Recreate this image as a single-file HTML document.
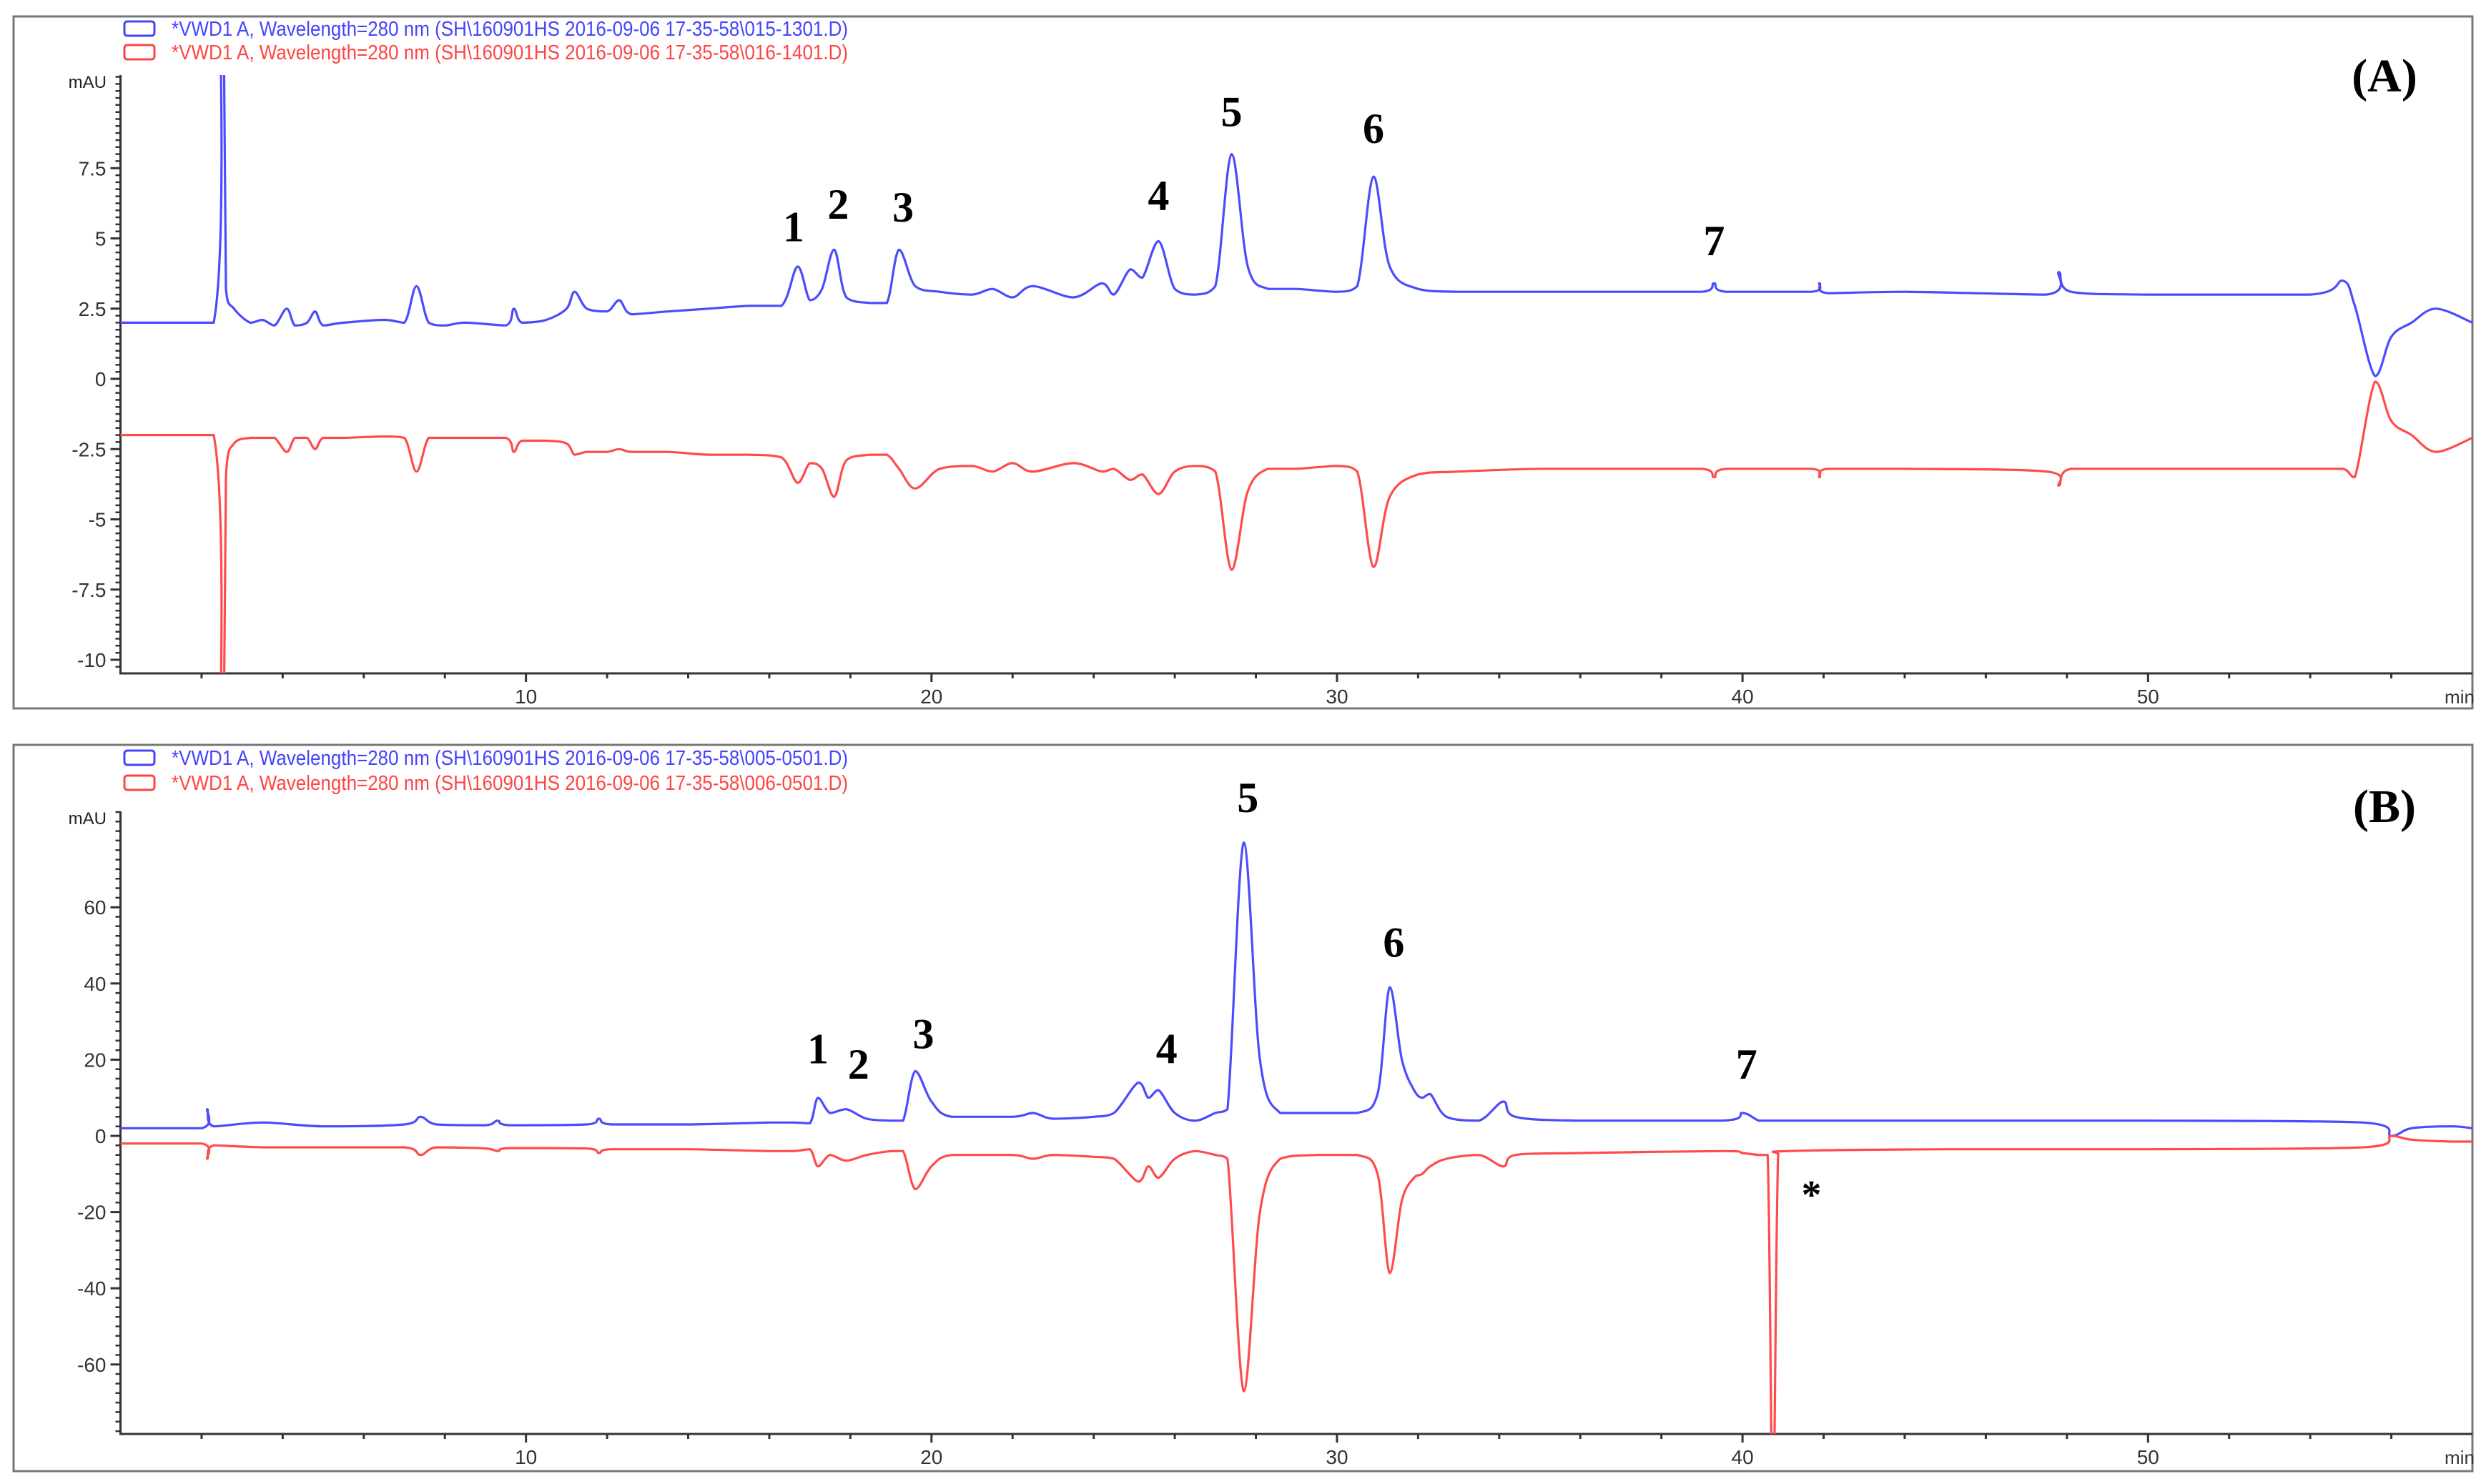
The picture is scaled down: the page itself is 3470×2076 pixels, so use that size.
<!DOCTYPE html>
<html><head><meta charset="utf-8">
<style>
html,body{margin:0;padding:0;background:#fff;}
svg{display:block;}
text{font-family:"Liberation Sans",Arial,sans-serif;}
.lbl{font-family:"Liberation Serif","Times New Roman",serif;font-weight:bold;fill:#000;}
</style></head>
<body>
<svg id="chart" width="3470" height="2076" viewBox="0 0 3470 2076" xmlns="http://www.w3.org/2000/svg">
<rect x="0" y="0" width="3470" height="2076" fill="#fff"/>
</svg>
<script>
// ---- Panel A data ----
const timesA = [0,2.3,2.38,2.45,2.52,2.6,2.8,3.2,3.5,3.8,4.1,4.3,4.6,4.8,5.0,5.5,6.5,7.0,7.3,7.6,8.0,8.5,9.5,9.7,9.9,10.5,11.0,11.2,11.5,12.0,12.3,12.6,13.5,14.5,15.5,16.3,16.7,17.0,17.3,17.6,17.9,18.5,18.9,19.2,19.6,20.2,21,21.5,22,22.5,23.5,24.2,24.5,24.9,25.2,25.6,26.0,26.5,27.0,27.4,27.8,28.3,29,30,30.5,30.9,31.3,32,33,35,37,39,39.3,39.6,41.7,41.9,42.1,44,47.5,47.8,48.1,50,54,54.8,55.1,55.6,56,56.5,57.1,58];
const blueA = [2.0,2.0,20,20,20,3.2,2.5,2.0,2.1,1.9,2.5,1.9,2.0,2.4,1.9,2.0,2.1,2.0,3.3,2.0,1.9,2.0,1.9,2.5,2.0,2.1,2.5,3.1,2.5,2.4,2.8,2.3,2.4,2.5,2.6,2.6,4.0,2.8,3.2,4.6,2.9,2.7,2.7,4.6,3.3,3.1,3.0,3.2,2.9,3.3,2.9,3.4,3.0,3.9,3.6,4.9,3.2,3.0,3.3,8.0,4.0,3.2,3.2,3.1,3.3,7.2,4.0,3.2,3.1,3.1,3.1,3.1,3.4,3.1,3.1,3.4,3.05,3.1,3.0,3.8,3.1,3.0,3.0,3.5,2.6,0.1,1.5,2.0,2.5,2.0];
const redA = [-2.0,-2.0,-20,-20,-20,-3.5,-2.3,-2.1,-2.1,-2.1,-2.6,-2.1,-2.1,-2.5,-2.1,-2.1,-2.05,-2.1,-3.3,-2.1,-2.1,-2.1,-2.1,-2.6,-2.2,-2.2,-2.3,-2.7,-2.6,-2.6,-2.5,-2.6,-2.6,-2.7,-2.7,-2.8,-3.7,-3.0,-3.2,-4.2,-2.9,-2.7,-2.7,-3.2,-3.9,-3.2,-3.1,-3.3,-3.0,-3.3,-3.0,-3.3,-3.2,-3.6,-3.4,-4.1,-3.3,-3.1,-3.3,-6.8,-4.0,-3.2,-3.2,-3.1,-3.3,-6.7,-4.2,-3.4,-3.3,-3.2,-3.2,-3.2,-3.5,-3.2,-3.2,-3.5,-3.2,-3.2,-3.3,-3.8,-3.2,-3.2,-3.2,-3.2,-3.5,-0.1,-1.5,-2.0,-2.6,-2.1];
const yTicksA = [-10,-7.5,-5,-2.5,0,2.5,5,7.5];
const yTickLabelsA = ["-10","-7.5","-5","-2.5","0","2.5","5","7.5"];
const peakLabelsA = ["1","2","3","4","5","6","7"];
const peakTimesA = [16.6,17.7,19.3,25.6,27.4,30.9,39.3];
const peakLabelValsA = [4.9,5.7,5.6,6.0,9.0,8.4,4.4];

// ---- Panel B data ----
const timesB = [0,2.0,2.14,2.3,3.5,5,7.0,7.4,7.8,9.0,9.3,9.6,11.5,11.8,12.1,14,16.0,16.6,17.0,17.2,17.5,17.9,18.4,19.0,19.3,19.6,20.0,20.5,22,22.5,23,24,24.5,25.1,25.35,25.6,26.0,26.5,27.0,27.3,27.7,28.1,28.6,29.5,30.5,31.0,31.3,31.6,31.9,32.1,32.3,32.7,33.5,34.1,34.4,36,39.5,40.0,40.4,40.62,40.75,40.88,41.1,45,50,55.3,56,56.5,57.5,58];
const blueB = [2,2,7,2.5,3.5,2.5,3,5,3,2.8,4,2.8,3,4.5,3,3,3.5,3.5,3.3,10,6,7,4.5,4,4,17,9,5,5,6,4.5,5,6,14,10,12,6,4,6,7,77,20,6,6,6,11,39,20,12,10,11,5,4,9,5,4,4,6,4,4,4,4,4,4,4,3.5,0,2,2.5,2];
const redB = [-2,-2,-6,-2.5,-3,-3,-3,-5,-3,-3.3,-4,-3.2,-3.3,-4.5,-3.5,-3.5,-4,-4,-3.5,-8,-5,-6.5,-5,-4,-4,-14,-8,-5,-5,-6,-5,-5.5,-6,-12,-8,-11,-6,-4,-5,-6,-67,-20,-6,-5,-5,-10,-36,-17,-11,-10,-8,-6,-5,-8,-5,-4.5,-4,-4.5,-5,-5,-100,-5,-4,-3.5,-3.5,-3,0,-1,-1.5,-1.5];
const yTicksB = [-60,-40,-20,0,20,40,60];
const yTickLabelsB = ["-60","-40","-20","0","20","40","60"];
const peakLabelsB = ["1","2","3","4","5","6","7"];
const peakTimesB = [17.2,18.2,19.8,25.8,27.8,31.4,40.1];
const peakLabelValsB = [19,15,23,19,85,47,15];

const xTickLabels = ["10","20","30","40","50"];

const NS = "http://www.w3.org/2000/svg";
const svg = document.getElementById('chart');
function mk(tag, attrs, parent){ const e=document.createElementNS(NS,tag); for(const k in attrs) e.setAttribute(k,attrs[k]); (parent||svg).appendChild(e); return e; }

function clamp(v,a,b){ const lo=Math.min(a,b), hi=Math.max(a,b); return Math.max(lo,Math.min(hi,v)); }
function smoothPath(pts){
  let d='M'+pts[0][0].toFixed(1)+','+pts[0][1].toFixed(1);
  for(let i=0;i<pts.length-1;i++){
    const p0=pts[Math.max(0,i-1)], p1=pts[i], p2=pts[i+1], p3=pts[Math.min(pts.length-1,i+2)];
    const c1x=p1[0]+(p2[0]-p0[0])/6, c1y=clamp(p1[1]+(p2[1]-p0[1])/6,p1[1],p2[1]);
    const c2x=p2[0]-(p3[0]-p1[0])/6, c2y=clamp(p2[1]-(p3[1]-p1[1])/6,p1[1],p2[1]);
    d+=`C${c1x.toFixed(1)},${c1y.toFixed(1)} ${c2x.toFixed(1)},${c2y.toFixed(1)} ${p2[0].toFixed(1)},${p2[1].toFixed(1)}`;
  }
  return d;
}

function panel(cfg){
  const g = mk('g',{});
  
  
  const x0=168.5, x1=3458, tMax=58;
  const xs = t => x0 + (t/tMax)*(x1-x0);
  const ys = v => cfg.zeroY - v*cfg.ppu;
  const fr = mk('rect',{x:cfg.fx,y:cfg.fy,width:cfg.fw,height:cfg.fh,fill:'none',stroke:'#777','stroke-width':3},g);
  
  
  const legs=[['#4444ff',cfg.leg1,cfg.ly1],['#ff4444',cfg.leg2,cfg.ly2]];
  legs.forEach((l,i)=>{
    const lg=mk('g',{},g);
    
    
    mk('rect',{x:174,y:l[2]-10,width:42,height:20,rx:4,fill:'none',stroke:l[0],'stroke-width':3},lg);
    const t=mk('text',{x:240,y:l[2]+10,'font-size':29,fill:l[0],textLength:946,lengthAdjust:'spacingAndGlyphs'},lg);
    t.textContent=l[1];
  });
  const ax=mk('path',{d:`M${x0},${cfg.top} V${cfg.axisY} H${x1}`,fill:'none',stroke:'#333','stroke-width':3},g);
  
  
  const mu=mk('text',{x:149,y:cfg.top+18,'font-size':24,'text-anchor':'end',fill:'#222'},g);
  mu.textContent='mAU';
  
  
  let d='';
  for(let v=cfg.minorStart; ys(v)>=cfg.top-1; v+=cfg.minor){ const y=ys(v); if(y<=cfg.axisY) d+=`M${x0-7},${y.toFixed(1)}H${x0}`; }
  mk('path',{d:d,stroke:'#333','stroke-width':2.5},g);
  cfg.yTicks.forEach((v,i)=>{
    const y=ys(v);
    mk('path',{d:`M${x0-14},${y}H${x0}`,stroke:'#333','stroke-width':3},g);
    const t=mk('text',{x:x0-20,y:y+10,'font-size':28,'text-anchor':'end',fill:'#333'},g);
    t.textContent=cfg.yLabels[i];
    
    
  });
  for(let t=2;t<tMax;t+=2){
    const major = t%10===0;
    mk('path',{d:`M${xs(t)},${cfg.axisY}v${major?12:7}`,stroke:'#333','stroke-width':3},g);
  }
  xTickLabels.forEach(s=>{
    const t=mk('text',{x:xs(+s),y:cfg.axisY+42,'font-size':28,'text-anchor':'middle',fill:'#333'},g);
    t.textContent=s;
    
    
  });
  const mn=mk('text',{x:3440,y:cfg.axisY+42,'font-size':26,'text-anchor':'middle',fill:'#333'},g);
  mn.textContent='min';
  
  
  const cid=cfg.name+'-clip';
  const cp=mk('clipPath',{id:cid},g);
  mk('rect',{x:x0,y:cfg.top,width:x1-x0,height:cfg.axisY-cfg.top},cp);
  [[cfg.blue,'#4b4bff','blue'],[cfg.red,'#ff4b4b','red']].forEach(s=>{
    const pts = cfg.times.map((t,i)=>[xs(t), ys(s[0][i])]);
    const path=mk('path',{d:smoothPath(pts),fill:'none',stroke:s[1],'stroke-width':3.2,'stroke-linejoin':'round','clip-path':`url(#${cid})`},g);
    
    
  });
  cfg.pLabels.forEach((s,i)=>{
    const t=mk('text',{x:xs(cfg.pTimes[i]),y:ys(cfg.pVals[i]),'font-size':60,'text-anchor':'middle',class:'lbl'},g);
    t.textContent=s;
    
    
  });
  const pl=mk('text',{x:3335,y:cfg.panelLabelY,'font-size':66,'text-anchor':'middle',class:'lbl'},g);
  pl.textContent=cfg.panelLabel;
  
  
  return {xs,ys};
}

const pa = panel({name:'panel-a',fx:19,fy:23,fw:3439,fh:968,ly1:40,ly2:73,
  leg1:'*VWD1 A, Wavelength=280 nm (SH\\160901HS 2016-09-06 17-35-58\\015-1301.D)',
  leg2:'*VWD1 A, Wavelength=280 nm (SH\\160901HS 2016-09-06 17-35-58\\016-1401.D)',
  top:105,axisY:942,zeroY:530,ppu:39.3,minor:0.25,minorStart:-10.5,
  yTicks:yTicksA,yLabels:yTickLabelsA,times:timesA,blue:blueA,red:redA,
  pLabels:peakLabelsA,pTimes:peakTimesA,pVals:peakLabelValsA,panelLabel:'(A)',panelLabelY:128});
const pb = panel({name:'panel-b',fx:19,fy:1042,fw:3439,fh:1016,ly1:1060,ly2:1095,
  leg1:'*VWD1 A, Wavelength=280 nm (SH\\160901HS 2016-09-06 17-35-58\\005-0501.D)',
  leg2:'*VWD1 A, Wavelength=280 nm (SH\\160901HS 2016-09-06 17-35-58\\006-0501.D)',
  top:1135,axisY:2006,zeroY:1589,ppu:5.33,minor:2.5,minorStart:-77.5,
  yTicks:yTicksB,yLabels:yTickLabelsB,times:timesB,blue:blueB,red:redB,
  pLabels:peakLabelsB,pTimes:peakTimesB,pVals:peakLabelValsB,panelLabel:'(B)',panelLabelY:1150});
const star = mk('text',{x:pb.xs(41.7),y:1690,'font-size':56,'text-anchor':'middle',class:'lbl'});
star.textContent='*';


</script>
</body></html>
